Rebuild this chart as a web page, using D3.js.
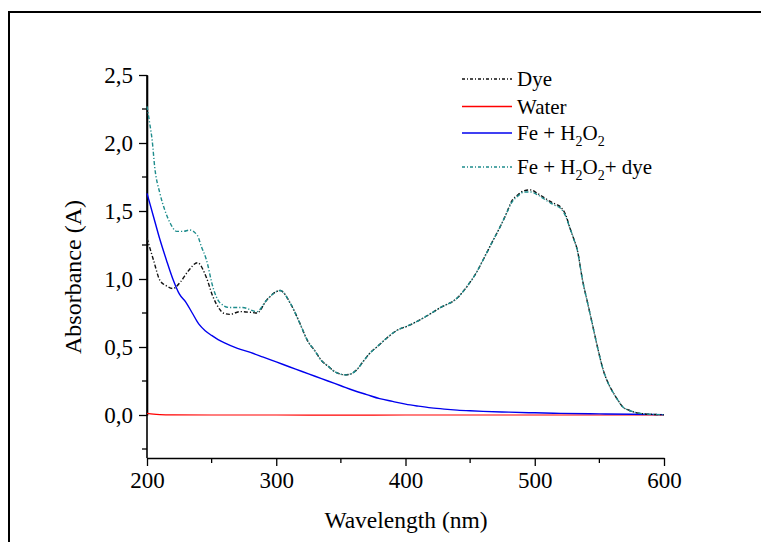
<!DOCTYPE html>
<html><head><meta charset="utf-8">
<script src="https://cdn.jsdelivr.net/npm/d3@7"></script>
<style>body{margin:0;background:#fff}svg{display:block}
svg text{font-family:"Liberation Serif","Tinos","Times New Roman","DejaVu Serif",serif !important;}</style>
</head><body>
<svg id="c" width="761" height="542"></svg>
<script>
const xTicks = [200, 300, 400, 500, 600];
const yTicks = [0, 0.5, 1.0, 1.5, 2.0, 2.5];
const seriesNames = ["Dye", "Water", "Fe + H2O2", "Fe + H2O2+ dye"];

const dyeWl  = [200,205,210,215,220,226,232,239,246,251,256,259,264,272,280,285,293,303,311,318,324,330,335,340,345,350,353,357,362,367,372,379,386,393,403,415,427,440,448,455,460,467,473,478,482,487,492,497,502,507,512,516,520,524,527,530,533,537,541,545,549,553,557,561,565,568,573,579,585,590,595,600];
const dyeA   = [1.30,1.14,0.99,0.95,0.93,0.98,1.06,1.12,1.01,0.87,0.78,0.75,0.74,0.76,0.755,0.75,0.85,0.915,0.82,0.68,0.55,0.47,0.40,0.36,0.32,0.30,0.295,0.30,0.33,0.39,0.45,0.51,0.57,0.62,0.66,0.72,0.79,0.86,0.95,1.05,1.14,1.27,1.38,1.48,1.57,1.62,1.65,1.655,1.63,1.60,1.57,1.55,1.53,1.47,1.38,1.30,1.21,0.99,0.82,0.65,0.48,0.33,0.23,0.16,0.10,0.06,0.035,0.016,0.008,0.005,0.003,0.002];

const mixWl  = [200,202,204,206,210,214,218,223,228,233,239,242,246,251,256,264,274,285,293,303,311,318,324,330,335,340,345,350,353,357,362,367,372,379,386,393,403,415,427,440,448,455,460,467,473,478,482,487,492,497,502,507,512,516,520,524,527,530,533,537,541,545,549,553,557,561,565,568,573,579,585,590,595,600];
const mixA   = [2.27,2.15,2.02,1.82,1.63,1.50,1.41,1.35,1.35,1.36,1.32,1.24,1.14,0.94,0.83,0.79,0.79,0.76,0.85,0.915,0.82,0.68,0.55,0.47,0.40,0.36,0.32,0.30,0.295,0.30,0.33,0.39,0.45,0.51,0.57,0.62,0.66,0.72,0.79,0.86,0.95,1.05,1.14,1.27,1.38,1.48,1.56,1.61,1.64,1.64,1.62,1.59,1.56,1.54,1.52,1.46,1.38,1.30,1.21,0.99,0.82,0.65,0.48,0.33,0.23,0.16,0.10,0.06,0.035,0.016,0.008,0.005,0.003,0.002];

const feWl = [200,205,210,215,220,225,230,235,240,245,250,255,260,270,280,290,300,310,320,330,340,350,360,370,380,390,400,410,420,430,440,450,460,480,500,520,550,575,600];
const feA  = [1.63,1.46,1.29,1.14,1.00,0.89,0.83,0.75,0.67,0.62,0.585,0.555,0.53,0.49,0.46,0.425,0.39,0.355,0.32,0.285,0.25,0.215,0.18,0.15,0.12,0.10,0.08,0.065,0.052,0.043,0.036,0.031,0.027,0.021,0.016,0.012,0.008,0.005,0.003];

const waterWl = [200,205,210,220,250,300,350,400,450,500,550,600];
const waterA  = [0.012,0.006,0.003,0.001,0.0,0.0,-0.001,0.0,0.0,0.0,0.0,0.0];

const svg = d3.select("#c");
const font = "Liberation Serif";

svg.append("path").attr("d","M9,542 V12 H761").attr("fill","none").attr("stroke","#000").attr("stroke-width",2);

const x = d3.scaleLinear().domain([200,600]).range([147,664]);
const y = d3.scaleLinear().domain([0,2.5]).range([415,75]);
const yBottom = 458;

const g = svg.append("g");
const xMinor = [250,350,450,550];
g.selectAll(".xm").data(xMinor).enter().append("line")
  .attr("x1",d=>x(d)).attr("x2",d=>x(d)).attr("y1",yBottom).attr("y2",yBottom+5)
  .attr("stroke","#000").attr("stroke-width",1.3);
const yMinor = [-0.25,0.25,0.75,1.25,1.75,2.25];
g.selectAll(".ym").data(yMinor).enter().append("line")
  .attr("x1",142).attr("x2",147).attr("y1",d=>y(d)).attr("y2",d=>y(d))
  .attr("stroke","#000").attr("stroke-width",1.3);

const xAxis = g.append("g").attr("transform",`translate(0,${yBottom})`)
  .call(d3.axisBottom(x).tickValues(xTicks).tickSize(8).tickSizeOuter(0).tickFormat(d3.format("d")));
const yAxis = g.append("g").attr("transform","translate(147,0)")
  .call(d3.axisLeft(y).tickValues(yTicks).tickSize(8).tickSizeOuter(0).tickPadding(6).tickFormat(d=>d3.format(".1f")(d).replace(".",",")));
g.append("line").attr("x1",147).attr("x2",147).attr("y1",75).attr("y2",yBottom).attr("stroke","#000").attr("stroke-width",1.6);
[xAxis,yAxis].forEach(a=>{
  a.attr("font-family",font).attr("font-size",23);
  a.select(".domain").attr("stroke-width",1.6);
  a.selectAll(".tick line").attr("stroke-width",1.3);
  a.selectAll("text").attr("fill","#000");
});
xAxis.selectAll("text").attr("y",30).attr("dy",0);
yAxis.selectAll("text").attr("dy","0.33em");

svg.append("text").attr("x",406).attr("y",528).attr("text-anchor","middle")
  .attr("font-family",font).attr("font-size",23.5).text("Wavelength (nm)");
svg.append("text").attr("transform","translate(81,277) rotate(-90)").attr("text-anchor","middle")
  .attr("font-family",font).attr("font-size",24).text("Absorbance (A)");

const line = d3.line().x(d=>x(d[0])).y(d=>y(d[1])).curve(d3.curveMonotoneX);
const zip = (a,b)=>a.map((v,i)=>[v,b[i]]);

const series = [
  {name:seriesNames[1], data:zip(waterWl,waterA), color:"#ff0000", dash:null, w:1.2},
  {name:seriesNames[2], data:zip(feWl,feA), color:"#0000ee", dash:null, w:1.4},
  {name:seriesNames[0], data:zip(dyeWl,dyeA), color:"#111", dash:"4,2,1.2,2", w:1.4},
  {name:seriesNames[3], data:zip(mixWl,mixA), color:"#1e8c8c", dash:"4,2,1.2,2", w:1.4},
];
series.forEach(s=>{
  svg.append("path").attr("d",line(s.data)).attr("fill","none")
    .attr("stroke",s.color).attr("stroke-width",s.w).attr("stroke-dasharray",s.dash);
});

const leg = [
  {y:79, color:"#111", dash:"3,2,1,2", parts:[["Dye",0]]},
  {y:106.5, color:"#ff0000", dash:null, parts:[["Water",0]]},
  {y:133, color:"#0000ee", dash:null, parts:[["Fe + H",0],["2",1],["O",0],["2",1]]},
  {y:167, color:"#1e8c8c", dash:"3,2,1,2", parts:[["Fe + H",0],["2",1],["O",0],["2",1],["+ dye",0]]},
];
leg.forEach(l=>{
  svg.append("line").attr("x1",462).attr("x2",512).attr("y1",l.y).attr("y2",l.y)
    .attr("stroke",l.color).attr("stroke-width",1.3).attr("stroke-dasharray",l.dash);
  const t = svg.append("text").attr("x",517).attr("y",l.y+7).attr("font-family",font).attr("font-size",21);
  l.parts.forEach((p,i)=>{
    const ts = t.append("tspan").text(p[0]);
    if(p[1]) ts.attr("font-size",14).attr("dy",6);
    else if(i>0) ts.attr("dy",-6);
  });
});
</script>
</body></html>
